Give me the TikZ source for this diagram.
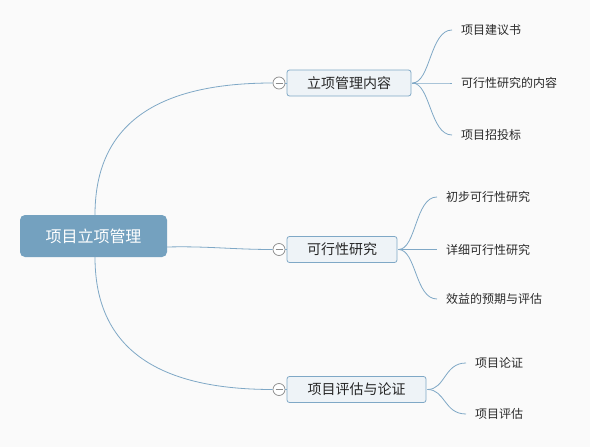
\documentclass[tikz,border=0pt]{standalone}
\usepackage{fontspec}
\setmainfont{Noto Sans CJK SC}
\definecolor{bgc}{HTML}{FAFAFA}
\definecolor{rootc}{HTML}{74A1BF}
\definecolor{linec}{HTML}{7FA8C6}
\definecolor{boxc}{HTML}{EEF3F7}
\definecolor{txtc}{HTML}{2A2A2A}
\definecolor{circc}{HTML}{8A8A8A}
\begin{document}
\begin{tikzpicture}[x=1pt,y=-1pt,
  rootbox/.style={draw=none,fill=rootc,rounded corners=5pt,minimum width=147pt,minimum height=42pt,text=white,font=\fontsize{16}{18}\selectfont,inner sep=0pt},
  midbox/.style={draw=linec,fill=boxc,rounded corners=2.5pt,minimum height=26pt,text=black!85,font=\fontsize{14}{16}\selectfont,inner sep=0pt,line width=0.8pt},
  leaf/.style={anchor=west,text=txtc,font=\fontsize{12}{14}\selectfont,inner xsep=9pt,inner ysep=0pt},
  coll/.style={circle,draw=circc,fill=white,minimum size=12pt,inner sep=0pt,line width=0.7pt},
  conn/.style={draw=linec,line width=0.8pt}]
\fill[bgc] (0,0) rectangle (590,447);
\useasboundingbox (0,0) rectangle (590,447);

\node[rootbox] (root) at (93.5,236) {项目立项管理};

\node[midbox,minimum width=124pt] (m1) at (349,83) {立项管理内容};
\node[midbox,minimum width=110pt] (m2) at (342,249.5) {可行性研究};
\node[midbox,minimum width=139pt] (m3) at (356.5,389.5) {项目评估与论证};

\node[coll] (c1) at (279,83) {};
\node[coll] (c2) at (279,249.5) {};
\node[coll] (c3) at (279,389.5) {};
\foreach \c in {c1,c2,c3} \draw[circc,line width=0.7pt] ([xshift=-3.5pt]\c.center) -- ([xshift=3.5pt]\c.center);

\node[leaf] (l11) at (452,30) {项目建议书};
\node[leaf] (l12) at (452,83) {可行性研究的内容};
\node[leaf] (l13) at (452,135) {项目招投标};
\node[leaf] (l21) at (437,197) {初步可行性研究};
\node[leaf] (l22) at (437,249.5) {详细可行性研究};
\node[leaf] (l23) at (437,299) {效益的预期与评估};
\node[leaf] (l31) at (466,363) {项目论证};
\node[leaf] (l32) at (466,414) {项目评估};

% root connectors
\path[conn] ([xshift=1.5pt]root.north) .. controls +(0,-95) and +(-110,0) .. (c1.west);
\path[conn] ([yshift=-11pt]root.east) .. controls +(40,-1) and +(-40,0) .. (c2.west);
\path[conn] ([xshift=1.5pt]root.south) .. controls +(0,95) and +(-110,0) .. (c3.west);
\foreach \i in {1,2,3} \path[conn] (c\i.east) -- (m\i.west);

% leaf connectors
\foreach \j in {1,2,3} \path[conn] ([xshift=1pt]m1.east) .. controls +(18,0) and +(-22,0) .. (l1\j.west);
\foreach \j in {1,2,3} \path[conn] ([xshift=1pt]m2.east) .. controls +(18,0) and +(-22,0) .. (l2\j.west);
\foreach \j in {1,2} \path[conn] ([xshift=1pt]m3.east) .. controls +(18,0) and +(-22,0) .. (l3\j.west);
\end{tikzpicture}
\end{document}
